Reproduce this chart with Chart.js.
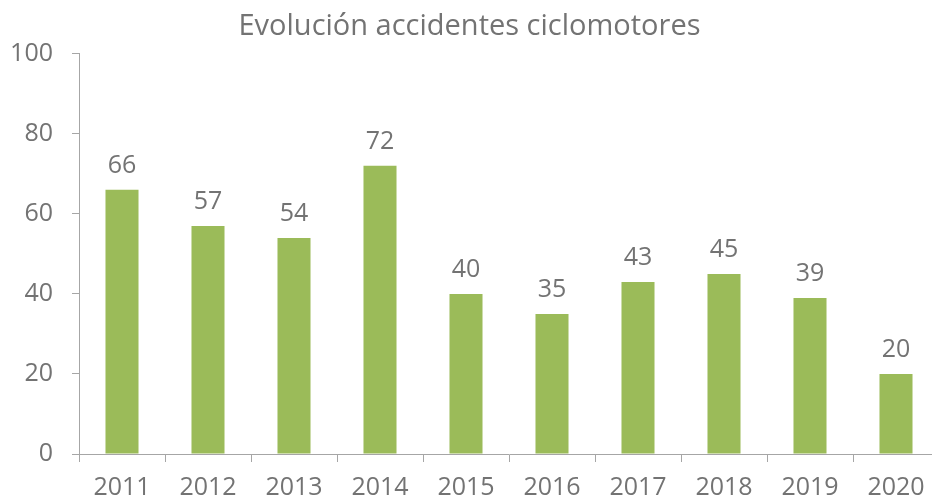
<!DOCTYPE html>
<html>
<head>
<meta charset="utf-8">
<script src="https://cdn.jsdelivr.net/npm/chart.js@4"></script>
<style>
html,body{margin:0;padding:0;overflow:hidden;background:#fff;}
#wrap{width:945px;height:498px;}
</style>
</head>
<body>
<div id="wrap"><canvas id="c" width="945" height="498"></canvas></div>
<script>
const categories = ["2011","2012","2013","2014","2015","2016","2017","2018","2019","2020"];
const accidentes = [66, 57, 54, 72, 40, 35, 43, 45, 39, 20];
const titleText = "Evolución accidentes ciclomotores";

const textColor = "#737373";
const axisColor = "#a6a6a6";
const barColor = "#9bbb59";
const fontFamily = "'Open Sans', sans-serif";

const dataLabels = {
  id: "dataLabels",
  afterDatasetsDraw(chart) {
    const ctx = chart.ctx;
    const meta = chart.getDatasetMeta(0);
    ctx.save();
    ctx.font = "25px " + fontFamily;
    ctx.fillStyle = textColor;
    ctx.textAlign = "center";
    ctx.textBaseline = "alphabetic";
    meta.data.forEach((bar, i) => {
      ctx.fillText(String(chart.data.datasets[0].data[i]), bar.x, bar.y - 17);
    });
    ctx.restore();
  }
};

new Chart(document.getElementById("c"), {
  type: "bar",
  data: {
    labels: categories,
    datasets: [{
      data: accidentes,
      backgroundColor: barColor,
      borderWidth: 0,
      categoryPercentage: 1,
      barPercentage: 0.384
    }]
  },
  options: {
    responsive: false,
    animation: false,
    layout: { padding: { left: 0, right: 6, top: 0, bottom: 0 } },
    plugins: {
      legend: { display: false },
      tooltip: { enabled: false },
      title: {
        display: true,
        text: titleText,
        color: textColor,
        font: { family: fontFamily, size: 29, weight: "normal" },
        padding: { top: 9, bottom: 10 }
      }
    },
    scales: {
      x: {
        grid: { drawOnChartArea: false, tickLength: 8, color: axisColor, offset: true },
        border: { color: axisColor, width: 1 },
        ticks: { color: textColor, font: { family: fontFamily, size: 25 }, padding: 11, maxRotation: 0 },
        afterFit(scale) { scale.height = 44; }
      },
      y: {
        min: 0, max: 100,
        grid: { drawOnChartArea: false, tickLength: 7, color: axisColor },
        border: { color: axisColor, width: 1 },
        ticks: { stepSize: 20, color: textColor, font: { family: fontFamily, size: 25 }, padding: 19 },
        afterFit(scale) { scale.width = 79; }
      }
    }
  },
  plugins: [dataLabels]
});
</script>
</body>
</html>
